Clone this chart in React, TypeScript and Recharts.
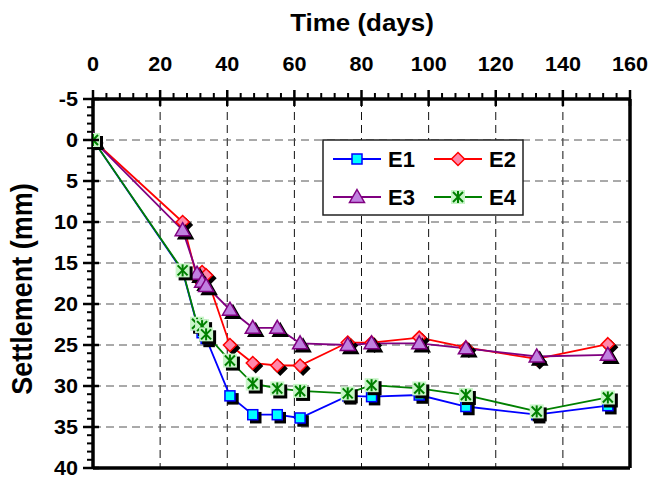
import React from "react";
import { LineChart, Line, XAxis, YAxis, ReferenceLine } from "recharts";

// ---- data ----
const days = [0, 26.7, 31, 32.5, 33.7, 40.8, 47.6, 54.9, 61.7, 75.9, 83, 97.2, 111.1, 132.2, 153.4];
const e1 = [0, 16.0, 22.5, 23.5, 24.2, 31.2, 33.5, 33.5, 33.9, 31.2, 31.3, 31.1, 32.5, 33.5, 32.4];
const e2 = [0, 10.0, 16.8, 16.1, 16.5, 25.0, 27.2, 27.5, 27.5, 24.7, 24.7, 24.1, 25.3, 26.7, 24.9];
const e3 = [0, 11.0, 16.3, 17.3, 17.8, 20.7, 22.9, 22.9, 24.8, 25.0, 24.8, 24.8, 25.4, 26.4, 26.2];
const e4 = [0, 15.9, 22.4, 22.7, 23.7, 26.9, 29.7, 30.3, 30.6, 30.9, 29.9, 30.3, 31.1, 33.1, 31.4];
const seriesNames = ["E1", "E2", "E3", "E4"];
const xGrid = [20, 40, 60, 80, 100, 120, 140];
const yGrid = [0, 5, 10, 15, 20, 25, 30, 35];
const xTitle = "Time (days)";
const yTitle = "Settlement (mm)";

const xTicks: number[] = [];
for (let v = 0; v <= 160; v += 4) xTicks.push(v);
const yTicks: number[] = [];
for (let v = -5; v <= 40; v += 1) yTicks.push(v);

const data = days.map((d, i) => ({ day: d, E1: e1[i], E2: e2[i], E3: e3[i], E4: e4[i] }));

const FONT = "'Liberation Sans', Arial, sans-serif";
const SX = 1.08;

type Kind = "sq" | "dia" | "tri" | "ast";

function Shape({ kind, cx, cy, fill }: { kind: Kind; cx: number; cy: number; fill?: string }) {
  const sh = fill !== undefined;
  if (kind === "sq")
    return <rect x={cx - 5} y={cy - 5} width={10} height={10} fill={sh ? fill : "#00FFFF"} stroke={sh ? fill : "#0000FF"} strokeWidth={1.5} />;
  if (kind === "dia")
    return (
      <polygon
        points={`${cx},${cy - 6.5} ${cx + 6.5},${cy} ${cx},${cy + 6.5} ${cx - 6.5},${cy}`}
        fill={sh ? fill : "#FF88AA"}
        stroke={sh ? fill : "#FF0000"}
        strokeWidth={1.5}
      />
    );
  if (kind === "tri")
    return (
      <polygon
        points={`${cx},${cy - 7.5} ${cx + 7.5},${cy + 5.5} ${cx - 7.5},${cy + 5.5}`}
        fill={sh ? fill : "#C080E0"}
        stroke={sh ? fill : "#800080"}
        strokeWidth={1.5}
      />
    );
  if (sh) return <rect x={cx - 7} y={cy - 7} width={14} height={14} fill={fill} />;
  return (
    <g>
      <rect x={cx - 7} y={cy - 7} width={14} height={14} fill="#C8F5C8" />
      <g stroke="#008000" strokeWidth={2}>
        <line x1={cx} y1={cy - 6} x2={cx} y2={cy + 6} />
        <line x1={cx - 5} y1={cy - 5} x2={cx + 5} y2={cy + 5} />
        <line x1={cx + 5} y1={cy - 5} x2={cx - 5} y2={cy + 5} />
      </g>
    </g>
  );
}

const makeDot = (kind: Kind) => (props: any) => {
  const { cx, cy, index } = props;
  if (cx == null || cy == null) return <g key={`d${index}`} />;
  return (
    <g key={`d${index}`}>
      <Shape kind={kind} cx={cx + 3} cy={cy + 3} fill="#000" />
      <Shape kind={kind} cx={cx} cy={cy} />
    </g>
  );
};

const XTick = (props: any) => {
  const { x, y, payload } = props;
  const v = payload.value;
  const major = v % 20 === 0;
  return (
    <g>
      {major ? (
        <line x1={x} y1={y - 9} x2={x} y2={y + 7} stroke="#000" strokeWidth={2.5} />
      ) : (
        <line x1={x} y1={y - 6} x2={x} y2={y} stroke="#000" strokeWidth={2} />
      )}
      {major && (
        <text
          transform={`translate(${x},${y - 28}) scale(${SX},1)`}
          textAnchor="middle"
          fontFamily={FONT}
          fontWeight="bold"
          fontSize={20}
          fill="#000"
        >
          {v}
        </text>
      )}
    </g>
  );
};

const YTick = (props: any) => {
  const { x, y, payload } = props;
  const v = payload.value;
  const major = v % 5 === 0;
  return (
    <g>
      {major ? (
        <line x1={x - 10} y1={y} x2={x + 6} y2={y} stroke="#000" strokeWidth={2.5} />
      ) : (
        <line x1={x - 6} y1={y} x2={x} y2={y} stroke="#000" strokeWidth={2} />
      )}
      {major && (
        <text
          transform={`translate(${x - 15},${y + 7}) scale(${SX},1)`}
          textAnchor="end"
          fontFamily={FONT}
          fontWeight="bold"
          fontSize={20}
          fill="#000"
        >
          {v}
        </text>
      )}
    </g>
  );
};

const kinds: Kind[] = ["sq", "dia", "tri", "ast"];
const colors = ["#0000FF", "#FF0000", "#800080", "#008000"];

function LegendBox() {
  const items = seriesNames.map((n, i) => ({ n, kind: kinds[i], color: colors[i], col: i % 2, row: Math.floor(i / 2) }));
  return (
    <g>
      <rect x={323} y={140} width={200} height={75} fill="#fff" stroke="#222" strokeWidth={1.5} />
      {items.map((it) => {
        const x0 = 333 + it.col * 101;
        const y0 = 159 + it.row * 38;
        return (
          <g key={it.n}>
            <line x1={x0} y1={y0} x2={x0 + 48} y2={y0} stroke={it.color} strokeWidth={1.8} />
            <Shape kind={it.kind} cx={x0 + 24} cy={y0} />
            <text x={x0 + 55} y={y0 + 8} fontFamily={FONT} fontWeight="bold" fontSize={22} fill="#000">
              {it.n}
            </text>
          </g>
        );
      })}
    </g>
  );
}

export default function App() {
  return (
    <div style={{ position: "absolute", left: 0, top: 0, width: 652, height: 481, background: "#fff" }}>
      <LineChart width={652} height={481} data={data} margin={{ top: 0, right: 22, bottom: 13, left: 0 }}>
        <XAxis
          xAxisId={0}
          orientation="top"
          type="number"
          dataKey="day"
          domain={[0, 160]}
          ticks={xTicks}
          interval={0}
          tick={<XTick />}
          tickLine={false}
          tickSize={0}
          tickMargin={0}
          height={99}
          axisLine={{ stroke: "#000", strokeWidth: 3.5 }}
          allowDataOverflow
        />
        <YAxis
          yAxisId={0}
          type="number"
          domain={[-5, 40]}
          reversed
          ticks={yTicks}
          interval={0}
          tick={<YTick />}
          tickLine={false}
          tickSize={0}
          tickMargin={0}
          width={93}
          axisLine={{ stroke: "#000", strokeWidth: 3.5 }}
          allowDataOverflow
        />
        {xGrid.map((v) => (
          <ReferenceLine key={`gx${v}`} x={v} stroke="#111" strokeWidth={1} strokeDasharray="8 5" />
        ))}
        {yGrid.map((v) => (
          <ReferenceLine key={`gy${v}`} y={v} stroke="#555" strokeWidth={1} strokeDasharray="8 5" />
        ))}
        <ReferenceLine x={160} stroke="#000" strokeWidth={3.5} />
        <ReferenceLine y={40} stroke="#000" strokeWidth={3.5} />
        {seriesNames.map((n, i) => (
          <Line
            key={n}
            dataKey={n}
            stroke={colors[i]}
            strokeWidth={1.8}
            dot={makeDot(kinds[i])}
            activeDot={false}
            isAnimationActive={false}
          />
        ))}
      </LineChart>
      <svg width={652} height={481} style={{ position: "absolute", left: 0, top: 0, pointerEvents: "none" }}>
        <text
          transform={`translate(362,31) scale(${SX},1)`}
          textAnchor="middle"
          fontFamily={FONT}
          fontWeight="bold"
          fontSize={24}
          fill="#000"
        >
          {xTitle}
        </text>
        <text
          transform={`translate(32,289) rotate(-90) scale(1,${SX})`}
          textAnchor="middle"
          fontFamily={FONT}
          fontWeight="bold"
          fontSize={27}
          fill="#000"
        >
          {yTitle}
        </text>
        <LegendBox />
      </svg>
    </div>
  );
}
